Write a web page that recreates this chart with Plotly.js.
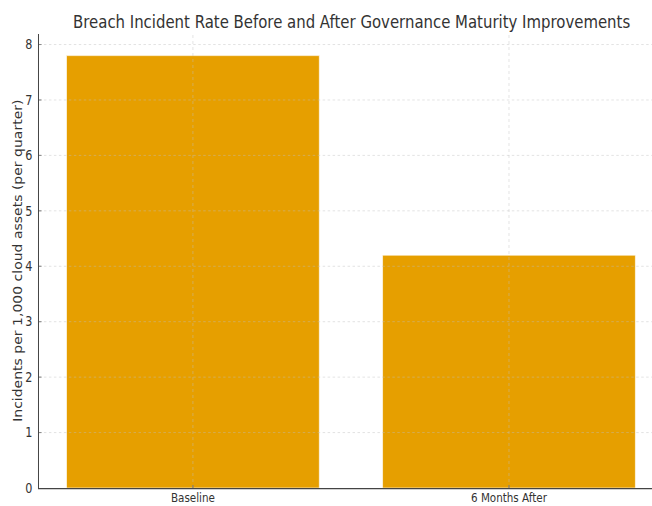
<!DOCTYPE html>
<html>
<head>
<meta charset="utf-8">
<script src="https://cdn.plot.ly/plotly-3.0.1.min.js"></script>
<style>
  html, body { margin: 0; padding: 0; background: #fff; overflow: hidden; width: 652px; height: 506px; }
  /* The figure is laid out wide and squeezed horizontally to fit the frame */
  #chart { width: 786px; height: 506px; transform: scaleX(0.8295); transform-origin: 0 0; }
</style>
</head>
<body>
<div id="chart"></div>
<script>
// Breach incident rate per 1,000 cloud assets, per quarter
const categories = ["Baseline", "6 Months After"];
const incidentRates = [7.8, 4.2];
const yTickValues = [0, 1, 2, 3, 4, 5, 6, 7, 8];
const yAxisLabel = "Incidents per 1,000 cloud assets (per quarter)";

const barColor = "#E69F00";
const gridColor = "rgba(190,190,190,0.6)";
const font = "'DejaVu Sans', 'Verdana', sans-serif";

// Grid lines drawn on top of the bars, at the tick positions
const gridShapes = [];
yTickValues.slice(1).forEach(v => {
  gridShapes.push({
    type: "line", layer: "above", xref: "paper", yref: "y",
    x0: 0, x1: 1, y0: v, y1: v,
    line: { color: gridColor, width: 0.8, dash: "dot" }
  });
});
categories.forEach(c => {
  gridShapes.push({
    type: "line", layer: "above", xref: "x", yref: "paper",
    x0: c, x1: c, y0: 0, y1: 1,
    line: { color: gridColor, width: 0.8, dash: "dot" }
  });
});

const data = [{
  type: "bar",
  x: categories,
  y: incidentRates,
  marker: { color: barColor, line: { color: "rgba(255,255,255,0.7)", width: 1 } },
  hoverinfo: "x+y"
}];

const layout = {
  width: 786,
  height: 506,
  margin: { l: 47, r: 0, t: 34, b: 18 },
  paper_bgcolor: "#fff",
  plot_bgcolor: "#fff",
  bargap: 0.2,
  showlegend: false,
  title: {
    text: "Breach Incident Rate Before and After Governance Maturity Improvements",
    font: { family: font, size: 18, color: "#333" },
    x: 0.51, xref: "paper", xanchor: "center",
    y: 0.958, yref: "container", yanchor: "middle"
  },
  xaxis: {
    type: "category",
    range: [-0.487, 1.4525],
    showgrid: false,
    zeroline: false,
    showline: true,
    linecolor: "#444",
    linewidth: 1.2,
    ticks: "inside",
    ticklen: 3,
    tickcolor: "#555",
    ticklabelstandoff: -2,
    tickfont: { family: font, size: 12.5, color: "#333" },
    automargin: false
  },
  yaxis: {
    range: [0, 8.19],
    tickvals: yTickValues,
    showgrid: false,
    zeroline: false,
    showline: true,
    linecolor: "#444",
    linewidth: 1.2,
    ticks: "inside",
    ticklen: 3,
    tickcolor: "#555",
    ticklabelstandoff: 4,
    tickfont: { family: font, size: 13.5, color: "#333" },
    automargin: false
  },
  annotations: [{
    text: yAxisLabel,
    xref: "paper", yref: "paper",
    x: -0.034, y: 0.5,
    xanchor: "center", yanchor: "middle",
    textangle: -90,
    showarrow: false,
    font: { family: font, size: 14, color: "#333" }
  }],
  shapes: gridShapes
};

Plotly.newPlot("chart", data, layout, { displayModeBar: false, staticPlot: true });
</script>
</body>
</html>
